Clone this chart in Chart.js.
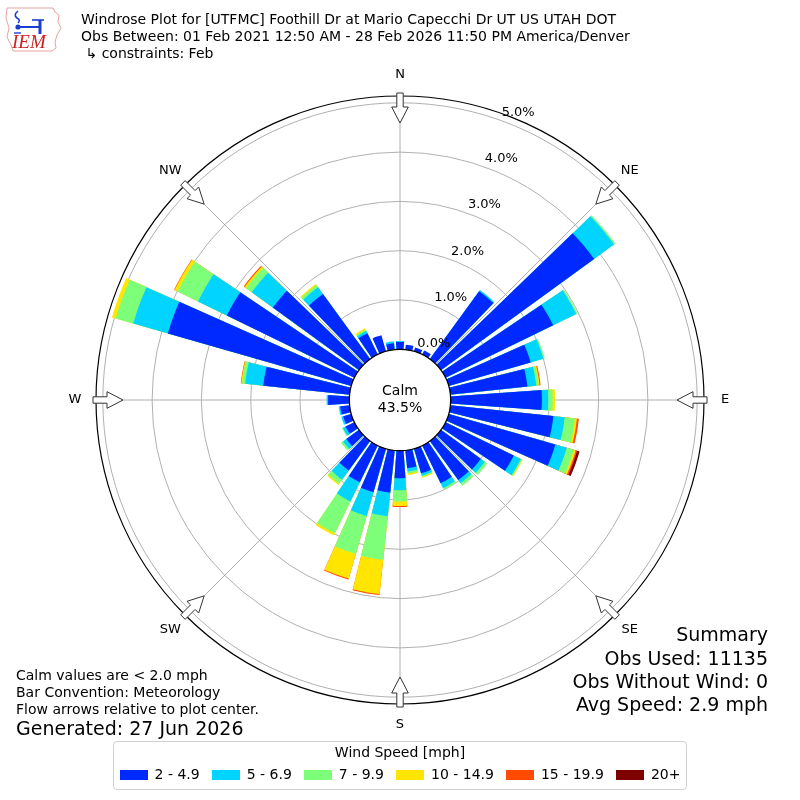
<!DOCTYPE html>
<html>
<head>
<meta charset="utf-8">
<script src="https://cdn.jsdelivr.net/npm/chart.js@4.4.1/dist/chart.umd.min.js"></script>
<style>
html,body{margin:0;padding:0;background:#fff;overflow:hidden;}
#wrap{position:relative;width:800px;height:800px;font-family:"DejaVu Sans",sans-serif;color:#000;}
#box{position:absolute;left:0;top:0;width:800px;height:800px;}
.t{position:absolute;white-space:pre;}
.s14{font-size:14px;line-height:17px;}
.s19{font-size:19px;line-height:23px;}
#legend{position:absolute;left:113px;top:741px;width:574px;height:49px;box-sizing:border-box;border:1px solid #d0d0d0;border-radius:4px;background:rgba(255,255,255,0.85);}
#legend .lt{position:absolute;left:0;right:0;top:2px;text-align:center;font-size:14px;line-height:17px;white-space:nowrap;}
#legend .row{position:absolute;left:0;right:0;top:24px;height:17px;display:flex;flex-wrap:nowrap;justify-content:center;align-items:center;font-size:14px;line-height:17px;white-space:nowrap;}
#legend .it{display:flex;flex:0 0 auto;align-items:center;margin:0 6px;white-space:nowrap;}
#legend .sw{display:inline-block;flex:0 0 auto;width:28px;height:10px;margin-right:7px;}
</style>
</head>
<body>
<div id="wrap">
  <div id="box"><canvas id="c"></canvas></div>

  <svg style="position:absolute;left:4px;top:4px" width="60" height="50" viewBox="0 0 60 50">
    <path d="M3 4 L49 4 L51 8 L55 11 L54 18 L57 24 L53 31 L51 38 L52 44 L48 47 L9 47 L7 41 L3 33 L5 24 L2 14 Z" fill="none" stroke="#e3a3a3" stroke-width="1"/>
    <path d="M14 7 Q9 11 13 14 Q17 16 14 19" fill="none" stroke="#1a3fd0" stroke-width="1.6"/>
    <line x1="14" y1="23" x2="36" y2="23" stroke="#1a3fd0" stroke-width="2"/>
    <circle cx="14" cy="23" r="2.6" fill="#1a3fd0"/>
    <line x1="36" y1="16" x2="36" y2="30" stroke="#1a3fd0" stroke-width="3"/>
    <line x1="28" y1="16" x2="40" y2="16" stroke="#1a3fd0" stroke-width="1.6"/>
    <line x1="10" y1="29" x2="17" y2="29" stroke="#1a3fd0" stroke-width="1.4"/>
    <text x="8" y="44" font-family="Liberation Serif, serif" font-style="italic" font-size="19" fill="#cc2020">IEM</text>
  </svg>

  <div class="t s14" style="left:81px;top:11px">Windrose Plot for [UTFMC] Foothill Dr at Mario Capecchi Dr UT US UTAH DOT</div>
  <div class="t s14" style="left:81px;top:28px">Obs Between: 01 Feb 2021 12:50 AM - 28 Feb 2026 11:50 PM America/Denver</div>
  <div class="t s14" style="left:81px;top:45px"> ↳ constraints: Feb</div>

  <div class="t s14" style="left:16px;top:667px">Calm values are &lt; 2.0 mph</div>
  <div class="t s14" style="left:16px;top:684px">Bar Convention: Meteorology</div>
  <div class="t s14" style="left:16px;top:701px">Flow arrows relative to plot center.</div>
  <div class="t s19" style="left:16px;top:717px">Generated: 27 Jun 2026</div>

  <div class="t s19" style="right:32px;top:623px;text-align:right">Summary</div>
  <div class="t s19" style="right:32px;top:647px;text-align:right">Obs Used: 11135</div>
  <div class="t s19" style="right:32px;top:670px;text-align:right">Obs Without Wind: 0</div>
  <div class="t s19" style="right:32px;top:693px;text-align:right">Avg Speed: 2.9 mph</div>

  <div id="legend"><div class="lt">Wind Speed [mph]</div><div class="row" id="legrow"></div></div>
</div>

<script>
// ---- data (percent of observations) ----
const directions = [0,10,20,30,40,50,60,70,80,90,100,110,120,130,140,150,160,170,180,190,200,210,220,230,240,250,260,270,280,290,300,310,320,330,340,350];
const compassLabels = ['N','NE','E','SE','S','SW','W','NW'];
const speedBins = ['2 - 4.9','5 - 6.9','7 - 9.9','10 - 14.9','15 - 19.9','20+'];
const binColors = ['#0029ff','#00d4ff','#7dff7a','#ffe500','#ff4a00','#7f0000'];
const spd2to4 = [0.15,0.10,0.08,0.09,1.70,3.84,2.43,1.73,1.57,1.85,2.10,2.25,1.54,1.00,0.98,0.85,0.52,0.36,0.56,0.86,0.92,0.83,0.74,0.32,0.20,0.17,0.19,0.43,1.76,3.87,2.88,2.16,1.63,0.48,0.34,0.13];
const spd5to6 = [0.02,0,0,0,0.03,0.50,0.52,0.27,0.18,0.13,0.23,0.24,0.16,0.10,0.08,0.11,0.05,0.07,0.24,0.48,0.50,0.43,0.23,0.08,0.06,0.04,0.03,0.03,0.37,0.73,0.65,0.53,0.17,0.05,0,0.04];
const spd7to9 = [0,0,0,0,0,0.03,0.03,0.03,0.05,0.09,0.21,0.15,0.02,0.06,0.06,0.04,0.02,0.04,0.23,0.89,0.80,0.72,0.10,0.05,0.02,0,0,0,0.06,0.37,0.46,0.14,0.05,0.03,0,0];
const spd10to14 = [0,0,0,0,0,0,0,0,0.02,0.05,0.04,0.04,0.02,0,0,0,0.02,0.03,0.09,0.70,0.52,0.05,0.03,0,0,0,0,0,0.02,0.08,0.07,0.04,0.03,0.03,0,0];
const spd15to19 = [0,0,0,0,0,0,0,0,0.02,0,0.04,0.03,0,0,0,0,0,0,0.02,0.02,0.02,0,0,0,0,0,0,0,0.01,0,0.01,0.02,0,0,0,0];
const spd20plus = [0,0,0,0,0,0,0,0,0,0,0,0.05,0,0,0,0,0,0,0,0,0,0,0,0,0,0,0,0,0,0,0,0,0,0,0,0];
const tickValues = [0,1,2,3,4,5];
const calmPct = 43.5;

// ---- axis geometry ----
const R_MIN = -1.028;   // value at plot centre (calm circle sits between centre and 0%)
const R_MAX = 5.138;    // outer frame
const BAR_DEG = 8, GAP_DEG = 2;
const LABEL_ANGLE = 20; // radial tick label direction

const bins = [spd2to4, spd5to6, spd7to9, spd10to14, spd15to19, spd20plus];

// element layout: N half, then gap/bar pairs, then last gap and N other half
const segDir = [0], segAngle = [BAR_DEG/2];
for (let k = 1; k < directions.length; k++) { segDir.push(-1); segAngle.push(GAP_DEG); segDir.push(k); segAngle.push(BAR_DEG); }
segDir.push(-1); segAngle.push(GAP_DEG);
segDir.push(0); segAngle.push(BAR_DEG/2);

const cumulative = bins.map((b, bi) => directions.map((d, k) => {
  let s = 0; for (let j = 0; j <= bi; j++) s += bins[j][k]; return s;
}));

const datasets = bins.map((b, bi) => ({
  label: speedBins[bi],
  data: segDir.map(k => (k < 0 || !(b[k] > 0)) ? R_MIN : cumulative[bi][k]),
  backgroundColor: (ctx) => segDir[ctx.dataIndex] < 0 ? 'rgba(0,0,0,0)' : binColors[bi],
  borderWidth: 0,
  angle: (ctx) => segAngle[ctx.dataIndex]
}));

// legend (HTML)
const row = document.getElementById('legrow');
speedBins.forEach((lab, i) => {
  const it = document.createElement('div'); it.className = 'it';
  const sw = document.createElement('span'); sw.className = 'sw'; sw.style.background = binColors[i];
  const tx = document.createElement('span'); tx.textContent = lab;
  it.appendChild(sw); it.appendChild(tx); row.appendChild(it);
});

const FONT = '"DejaVu Sans", sans-serif';
const deco = {
  id: 'deco',
  afterDraw(chart) {
    const s = chart.scales.r, ctx = chart.ctx;
    const cx = s.xCenter, cy = s.yCenter, R = s.drawingArea;
    ctx.save();
    // calm circle
    const r0 = s.getDistanceFromCenterForValue(0);
    ctx.beginPath(); ctx.arc(cx, cy, r0, 0, Math.PI * 2);
    ctx.fillStyle = '#fff'; ctx.fill();
    ctx.lineWidth = 1.3; ctx.strokeStyle = '#000'; ctx.stroke();
    ctx.fillStyle = '#000'; ctx.textAlign = 'center'; ctx.textBaseline = 'middle';
    ctx.font = '14px ' + FONT;
    ctx.fillText('Calm', cx, cy - 9);
    ctx.fillText(calmPct.toFixed(1) + '%', cx, cy + 8);
    // radial tick labels
    ctx.font = '13px ' + FONT; ctx.textAlign = 'left';
    const la = LABEL_ANGLE * Math.PI / 180;
    tickValues.forEach(v => {
      const r = s.getDistanceFromCenterForValue(v);
      ctx.fillText(v.toFixed(1) + '%', cx + r * Math.sin(la), cy - r * Math.cos(la) - 8.5);
    });
    // flow arrows and compass labels
    compassLabels.forEach((lab, i) => {
      const a = s.getIndexAngle(i);
      const ux = Math.sin(a), uy = -Math.cos(a), px = Math.cos(a), py = Math.sin(a);
      const pts = [[R+3,-3.2],[R-11,-3.2],[R-11,-8.3],[R-27,0],[R-11,8.3],[R-11,3.2],[R+3,3.2]];
      ctx.beginPath();
      pts.forEach(([rr, ll], j) => {
        const x = cx + rr * ux + ll * px, y = cy + rr * uy + ll * py;
        if (j === 0) ctx.moveTo(x, y); else ctx.lineTo(x, y);
      });
      ctx.closePath();
      ctx.fillStyle = '#fff'; ctx.fill();
      ctx.lineWidth = 1; ctx.strokeStyle = '#333'; ctx.stroke();
      ctx.fillStyle = '#000'; ctx.textAlign = 'center'; ctx.font = '13px ' + FONT;
      ctx.fillText(lab, cx + (R + 21) * ux, cy + (R + 21) * uy);
    });
    ctx.restore();
  }
};

new Chart(document.getElementById('c'), {
  type: 'polarArea',
  data: { labels: compassLabels, datasets },
  options: {
    responsive: true,
    maintainAspectRatio: false,
    animation: false,
    layout: { padding: 96 },
    plugins: { legend: { display: false }, tooltip: { enabled: false } },
    scales: {
      r: {
        type: 'radialLinear',
        min: R_MIN, max: R_MAX,
        startAngle: 0,
        z: 1,
        ticks: { display: false, z: 1 },
        afterBuildTicks: (axis) => { axis.ticks = tickValues.concat([R_MAX]).map(v => ({ value: v })); },
        grid: {
          circular: true,
          color: (c) => {
            const v = c.tick ? c.tick.value : null;
            if (v === R_MAX) return '#000';
            if (v === null || v <= 0) return 'rgba(0,0,0,0)';
            return '#b0b0b0';
          },
          lineWidth: (c) => (c.tick && c.tick.value === R_MAX) ? 1.2 : 1
        },
        angleLines: { display: true, color: '#b0b0b0', lineWidth: 1 },
        pointLabels: { display: false }
      }
    }
  },
  plugins: [deco]
});
</script>
</body>
</html>
